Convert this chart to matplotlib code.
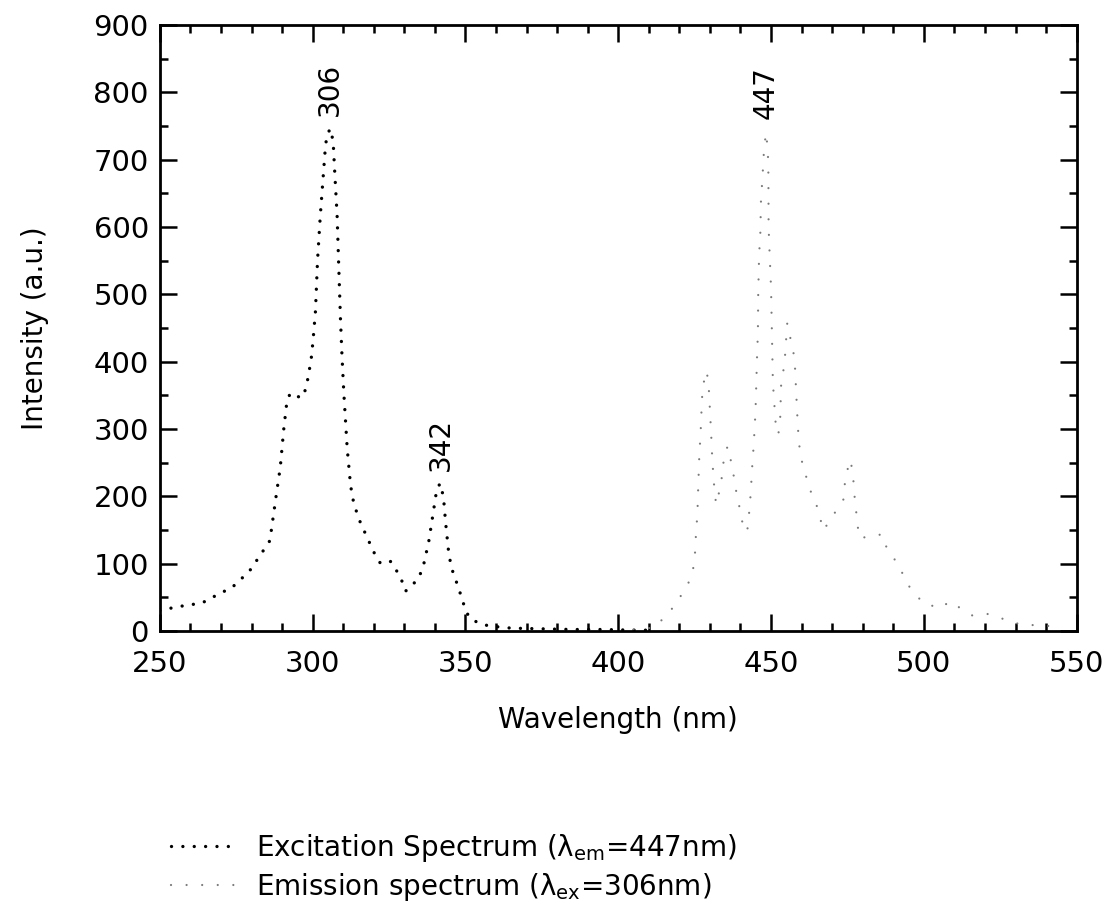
import matplotlib
matplotlib.use("Agg")
import matplotlib.pyplot as plt
from matplotlib.ticker import MultipleLocator

# Excitation spectrum (lambda_em = 447 nm)
ex_wl = [250, 251.6, 259.8, 262.6, 265.3, 270, 273, 275.7, 279.5, 282.8, 286, 288, 289.4,
         290.5, 291.6, 292.7, 294.9, 296.8, 298, 299.5, 300.1, 300.9, 301.6, 302.5, 303.4,
         304.2, 304.8, 305.8, 306.7, 307.2, 308, 308.5, 309.1, 309.6, 310.2, 311.3, 312.4,
         313.5, 315.6, 317.8, 320, 322.2, 325.5, 327.1, 328.8, 330.4, 332.6, 334.8, 336.4,
         338, 339.5, 340.6, 341.7, 342.8, 343.5, 344.6, 345.7, 347.4, 349, 350.1, 351.7,
         355, 358.3, 365, 375, 385, 395, 405, 412]
ex_int = [30, 32, 39, 40, 44.5, 57, 62, 73, 90, 112, 134, 199, 243,
          298, 342, 353, 348, 347, 364, 403, 430, 474, 551, 617, 672,
          721, 738, 746, 727, 683, 617, 546, 463, 408, 353, 271, 216,
          188, 161, 139, 117, 100, 103, 92, 79, 59, 68, 79, 100,
          133, 177, 210, 219, 199, 161, 112, 90, 68, 46, 29, 18,
          10, 7, 4, 3, 2, 2, 1, 1]

# Emission spectrum (lambda_ex = 306 nm)
em_wl = [405, 412, 418.8, 424.2, 425.1, 425.4, 425.9, 426.2, 426.5, 427, 427.3, 427.6, 428.8,
         429.5, 430, 430.4, 430.6, 431.2, 432, 432.9, 433.6, 434.2, 434.7, 435.8, 436.5,
         437.3, 438, 438.7, 439.8, 441.2, 442.3, 442.8, 443.4, 443.7, 444.2, 444.7, 445,
         445.4, 445.7, 445.8, 446.1, 446.5, 446.7, 447.2, 447.6, 448.3, 448.9, 449.1, 449.15,
         449.2, 449.4, 449.7, 450, 450.6, 451.7, 452.4, 453, 453.3, 454.4, 455.3, 457.7, 458.3,
         458.8, 459.4, 460.5, 461.3, 463, 464.2, 465, 465.7, 467.1, 473.8, 474.3, 476,
         476.8, 477.4, 478.2, 478.8, 484.6, 486.2, 488.2, 492, 493.1, 494.2, 496.1, 500.1,
         505.9, 508.3, 510.8, 515.8, 518.6, 521, 531.9, 534, 541.8, 545.1]
em_int = [2, 5, 39, 81, 114, 141, 174, 218, 257, 300, 334, 361, 386,
          372, 328, 293, 270, 224, 188, 204, 218, 240, 262, 274, 262,
          240, 226, 204, 181, 147, 152, 174, 207, 235, 268, 306, 339,
          405, 443, 501, 559, 592, 638, 674, 707, 740, 718, 691, 658,
          600, 575, 542, 509, 369, 295, 292, 317, 366, 397, 457, 405,
          347, 301, 268, 243, 232, 207, 196, 185, 174, 149, 196, 229,
          254, 232, 196, 163, 138, 141, 144, 119, 97, 84, 73, 60, 40,
          34, 44, 37, 23, 25, 25, 9, 9, 7, 4]

peak_labels = ["306", "342", "447"]
peak_x = [305.6, 342, 448.2]
peak_y = [765, 238, 760]

plt.rcParams['font.family'] = ['DejaVu Sans']
plt.rcParams['mathtext.default'] = 'regular'
fig = plt.figure(figsize=(11.18, 9.09), dpi=100)
ax = fig.add_axes([0.143, 0.306, 0.820, 0.6665])

ax.plot(ex_wl, ex_int, color='black', lw=2.4, linestyle=(0, (0.01, 3.4)),
        dash_capstyle='round', label=r'Excitation Spectrum ($\lambda_{em}$=447nm)')
ax.plot(em_wl, em_int, color='#7a7a7a', lw=1.6, linestyle=(0, (0.01, 7)),
        dash_capstyle='round', label=r'Emission spectrum ($\lambda_{ex}$=306nm)')

for t, x, y in zip(peak_labels, peak_x, peak_y):
    ax.text(x, y, t, rotation=90, ha='center', va='bottom', fontsize=20)

ax.set_xlim(250, 550)
ax.set_ylim(0, 900)
ax.xaxis.set_major_locator(MultipleLocator(50))
ax.xaxis.set_minor_locator(MultipleLocator(10))
ax.yaxis.set_major_locator(MultipleLocator(100))
ax.yaxis.set_minor_locator(MultipleLocator(50))
ax.tick_params(which='both', direction='in', top=True, right=True, width=1.8)
ax.tick_params(which='major', length=12, labelsize=21)
ax.tick_params(which='minor', length=6)
ax.tick_params(axis='x', which='major', pad=14)
ax.tick_params(axis='y', which='major', pad=8)
for s in ax.spines.values():
    s.set_linewidth(2)

ax.set_xlabel('Wavelength (nm)', fontsize=20, labelpad=20)
ax.set_ylabel('Intensity (a.u.)', fontsize=20, labelpad=32)

fig.legend(loc='upper left', bbox_to_anchor=(0.153, 0.085), frameon=False,
           fontsize=20, handlelength=2.4, handletextpad=0.65, labelspacing=0.25,
           borderaxespad=0, borderpad=0)

fig.savefig('out.png', dpi=100)
